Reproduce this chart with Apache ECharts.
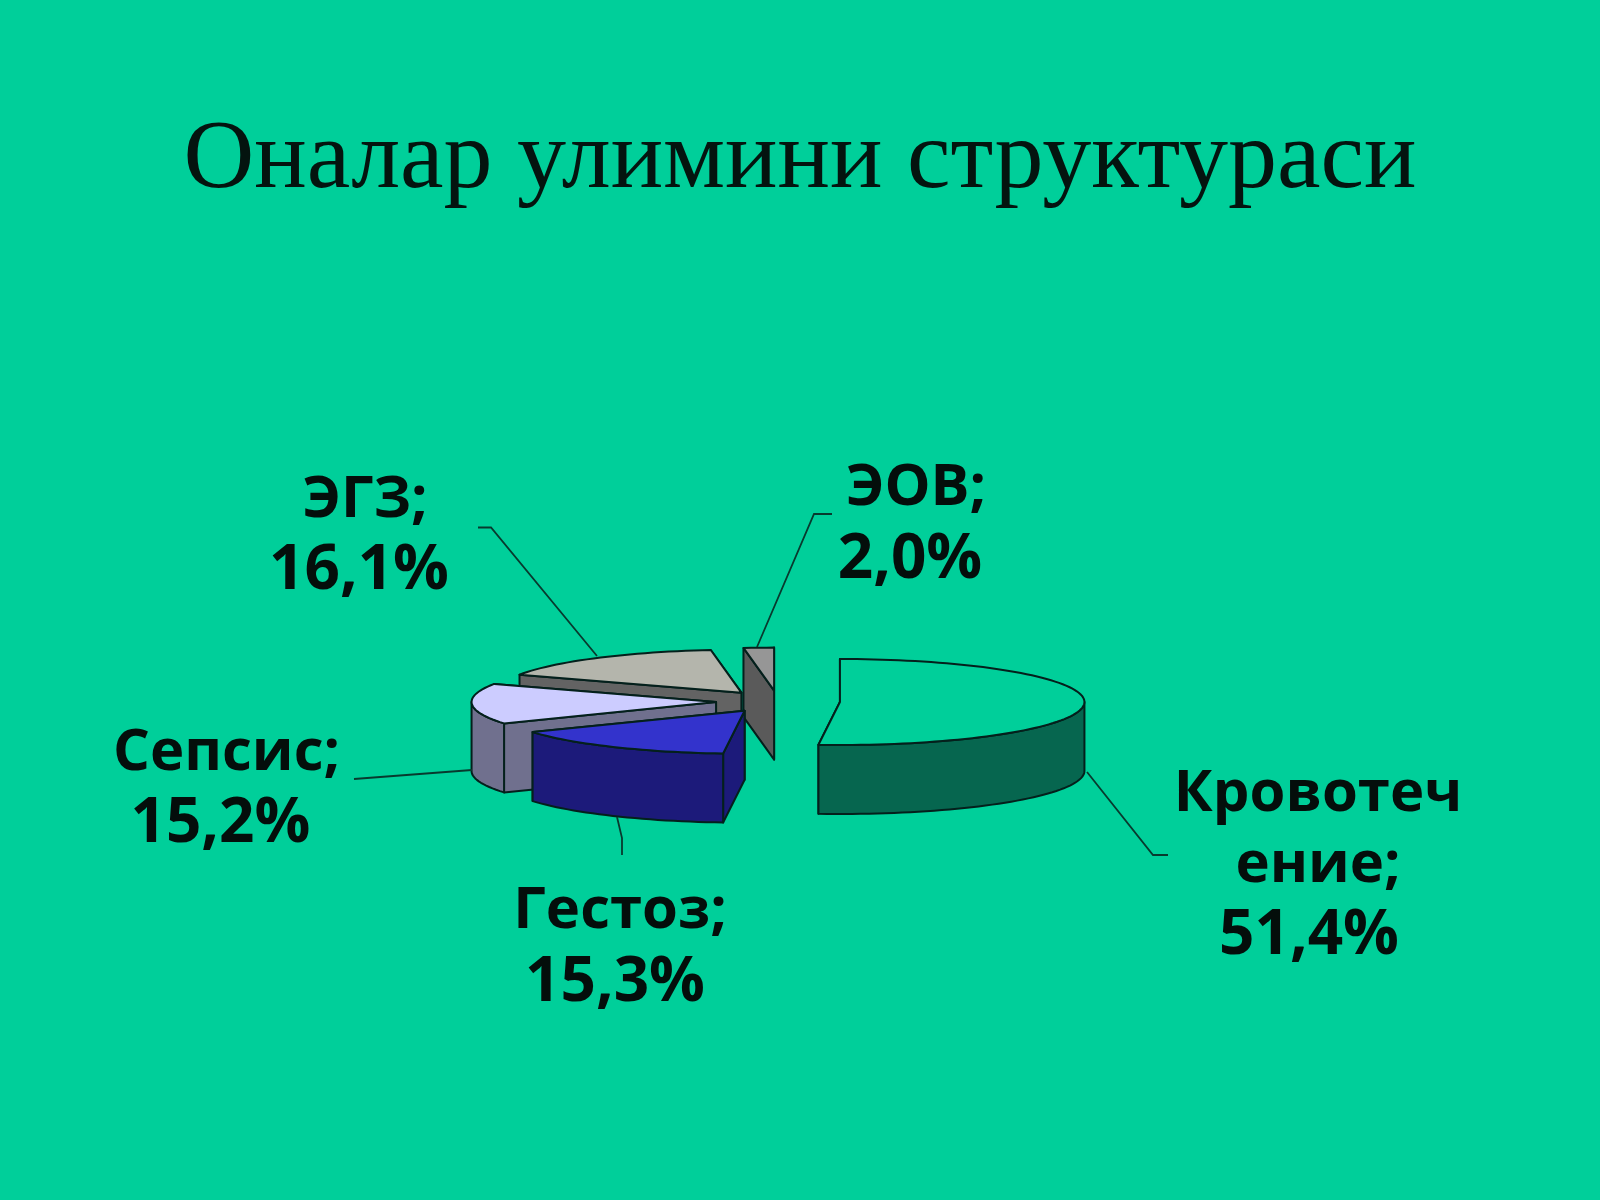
<!DOCTYPE html>
<html><head><meta charset="utf-8">
<style>html,body{margin:0;padding:0;background:#00CF9A}#c{width:1600px;height:1200px}</style>
<script src="https://cdn.jsdelivr.net/npm/echarts@6/dist/echarts.min.js"></script>
</head><body><div id="c"></div>
<script>
const titleText = 'Оналар улимини структураси';
const categories = ['Кровотеч\nение', 'Гестоз', 'Сепсис', 'ЭГЗ', 'ЭОВ'];
const shares = [51.4, 15.3, 15.2, 16.1, 2.0];

const topColors = ['#00CF9A', '#3333CC', '#CCCCFF', '#B4B5AC', '#969696'];
const wallColors = ['#06664F', '#1C1A7A', '#70708E', '#636363', '#5A5A5A'];
const nameBoxes = [[1318, 830], [620, 911], [226.5, 753.6], [365, 500.5], [916, 488]];
const valueBoxes = [[1309, 936], [615, 983], [220.4, 824], [359, 571], [910, 560]];
const leaders = [
  [[1087, 772], [1153, 855], [1168, 855]],
  [[617, 817], [622, 838], [622, 855]],
  [[472, 770], [354, 779]],
  [[597, 656], [491, 527.5], [478, 527.5]],
  [[757, 647], [814, 514], [832, 514]]
];
const geom = { cx: 778, cy: 701.5, rx: 244.5, ry: 43, depth: 69, explode: 62 };
const STROKE = '#04201C';
const total = shares.reduce((a, b) => a + b, 0);

function arc(ax, ay, a0, a1, dy) {
  const pts = [], n = Math.max(2, Math.ceil((a1 - a0) / 2));
  for (let i = 0; i <= n; i++) {
    const t = (a0 + (a1 - a0) * i / n) * Math.PI / 180;
    pts.push([ax + geom.rx * Math.sin(t), ay - geom.ry * Math.cos(t) + dy]);
  }
  return pts;
}
function poly(points, fill, z2) {
  return { type: 'polygon', z2, shape: { points },
    style: { fill, stroke: STROKE, lineWidth: 2, lineJoin: 'round' } };
}
function renderSlice(params, api) {
  const i = params.dataIndex;
  let before = 0;
  for (let k = 0; k < i; k++) before += shares[k];
  const a0 = before / total * 360, a1 = (before + shares[i]) / total * 360;
  const mid = (a0 + a1) / 2 * Math.PI / 180;
  const ax = geom.cx + geom.explode * Math.sin(mid);
  const ay = geom.cy - geom.explode * (geom.ry / geom.rx) * Math.cos(mid);
  const base = Math.round((1 - Math.cos(mid)) * 100) * 10;
  const d = geom.depth, kids = [];
  const wall = (ang) => {
    const p = arc(ax, ay, ang, ang + 0.001, 0)[0];
    return [[ax, ay], p, [p[0], p[1] + d], [ax, ay + d]];
  };
  kids.push(poly(wall(a1), wallColors[i], base + 1));
  kids.push(poly(wall(a0), wallColors[i], base + 2));
  const r0 = Math.max(a0, 90), r1 = Math.min(a1, 270);
  if (r1 > r0) {
    const upper = arc(ax, ay, r0, r1, 0), lower = arc(ax, ay, r0, r1, d).reverse();
    kids.push(poly(upper.concat(lower), wallColors[i], base + 3));
  }
  kids.push(poly([[ax, ay]].concat(arc(ax, ay, a0, a1, 0)), topColors[i], base + 4));
  return { type: 'group', children: kids };
}

const textStyle = (text, size) => ({
  text, font: 'bold ' + size + 'px "Open Sans"', lineHeight: 71, fill: '#040E0B',
  align: 'center', verticalAlign: 'middle'
});
const nameGraphics = categories.map((c, i) => ({
  type: 'text', x: nameBoxes[i][0], y: nameBoxes[i][1], z: 5, style: textStyle(c + ';', 58)
}));
const valueGraphics = shares.map((v, i) => ({
  type: 'text', x: valueBoxes[i][0], y: valueBoxes[i][1], z: 5,
  style: textStyle(v.toFixed(1).replace('.', ',') + '%', 62)
}));
const leaderGraphics = leaders.map(points => ({
  type: 'polyline', z: 4, shape: { points },
  style: { stroke: '#083A2E', lineWidth: 1.8, fill: null }
}));

const chart = echarts.init(document.getElementById('c'), null, { renderer: 'canvas', width: 1600, height: 1200 });
chart.setOption({
  animation: false,
  backgroundColor: '#00CF9A',
  title: {
    text: titleText, left: 'center', top: 107,
    textStyle: { fontFamily: '"Liberation Serif"', fontWeight: 'normal', fontSize: 98, color: '#04140F' }
  },
  graphic: { elements: leaderGraphics.concat(nameGraphics, valueGraphics) },
  series: [{
    type: 'custom', coordinateSystem: 'none', renderItem: renderSlice,
    data: shares.map((v, i) => ({ name: categories[i], value: v }))
  }]
});
</script></body></html>
